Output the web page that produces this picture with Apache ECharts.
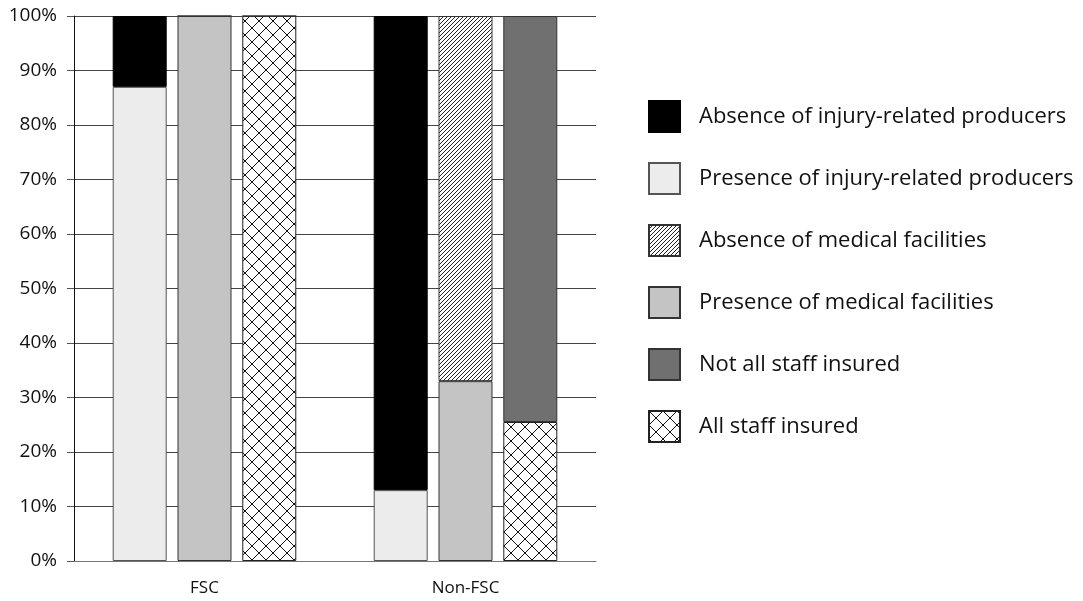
<!DOCTYPE html>
<html>
<head>
<meta charset="utf-8">
<script src="https://cdn.jsdelivr.net/npm/echarts@6/dist/echarts.min.js"></script>
<style>
html,body{margin:0;padding:0;background:#fff;}
#chart{width:1083px;height:601px;}
</style>
</head>
<body>
<div id="chart"></div>
<script>
const categories = ['FSC', 'Non-FSC'];
const seriesNames = [
  'Absence of injury-related producers',
  'Presence of injury-related producers',
  'Absence of medical facilities',
  'Presence of medical facilities',
  'Not all staff insured',
  'All staff insured'
];
const presenceInjury = [87, 13];
const absenceInjury = [13, 87];
const presenceMedical = [100, 33];
const absenceMedical = [0, 67];
const allInsured = [100, 25.5];
const notAllInsured = [0, 74.5];
const yTicks = [0, 10, 20, 30, 40, 50, 60, 70, 80, 90, 100];

function makeHatch() {
  const n = 4;
  const c = document.createElement('canvas');
  c.width = n; c.height = n;
  const g = c.getContext('2d');
  g.fillStyle = '#fff'; g.fillRect(0, 0, n, n);
  g.fillStyle = '#222';
  for (let i = 0; i < n; i++) g.fillRect(i, n - 1 - i, 1, 1);
  return c;
}
function makeCross() {
  const n = 14;
  const c = document.createElement('canvas');
  c.width = n; c.height = n;
  const g = c.getContext('2d');
  g.fillStyle = '#fff'; g.fillRect(0, 0, n, n);
  g.fillStyle = '#111';
  for (let i = 0; i < n; i++) {
    g.fillRect(i, i, 1, 1);
    g.fillRect(i, n - 1 - i, 1, 1);
  }
  return c;
}
const hatch = { image: makeHatch(), repeat: 'repeat' };
const cross = { image: makeCross(), repeat: 'repeat' };

const FONT = 'Open Sans';
function bar(name, data, stack, color, border) {
  return {
    name: name, type: 'bar', stack: stack, data: data,
    barWidth: 54, barGap: '20%',
    itemStyle: { color: color, borderColor: border, borderWidth: 1 },
    emphasis: { disabled: true }
  };
}

const chart = echarts.init(document.getElementById('chart'));
chart.setOption({
  animation: false,
  backgroundColor: '#fff',
  textStyle: { fontFamily: FONT },
  grid: { left: 74, right: 487, top: 16, bottom: 40, containLabel: false },
  legend: {
    orient: 'vertical',
    left: 643, top: 95,
    icon: 'rect',
    itemWidth: 31, itemHeight: 31,
    itemGap: 29,
    data: seriesNames,
    textStyle: { fontFamily: FONT, fontSize: 22, lineHeight: 26, color: '#111', padding: [0, 0, 0, 14] },
    selectedMode: false
  },
  xAxis: {
    type: 'category',
    data: categories,
    axisLine: { lineStyle: { color: '#777', width: 1 } },
    axisTick: { show: false },
    axisLabel: { color: '#111', fontSize: 17, margin: 19, fontFamily: FONT }
  },
  yAxis: {
    type: 'value',
    min: yTicks[0], max: yTicks[yTicks.length - 1], interval: 10,
    axisLine: { show: true, lineStyle: { color: '#111', width: 1 } },
    axisTick: { show: true, length: 7, lineStyle: { color: '#555' } },
    axisLabel: { color: '#111', fontSize: 19, margin: 17, fontFamily: FONT, formatter: '{value}%' },
    splitLine: { lineStyle: { color: '#444', width: 1 } }
  },
  series: [
    bar(seriesNames[1], presenceInjury, 'injury', '#ececec', '#555'),
    bar(seriesNames[0], absenceInjury, 'injury', '#000', '#000'),
    bar(seriesNames[3], presenceMedical, 'medical', '#c4c4c4', '#333'),
    bar(seriesNames[2], absenceMedical, 'medical', hatch, '#333'),
    bar(seriesNames[5], allInsured, 'insured', cross, '#222'),
    bar(seriesNames[4], notAllInsured, 'insured', '#707070', '#333')
  ]
});
</script>
</body>
</html>
